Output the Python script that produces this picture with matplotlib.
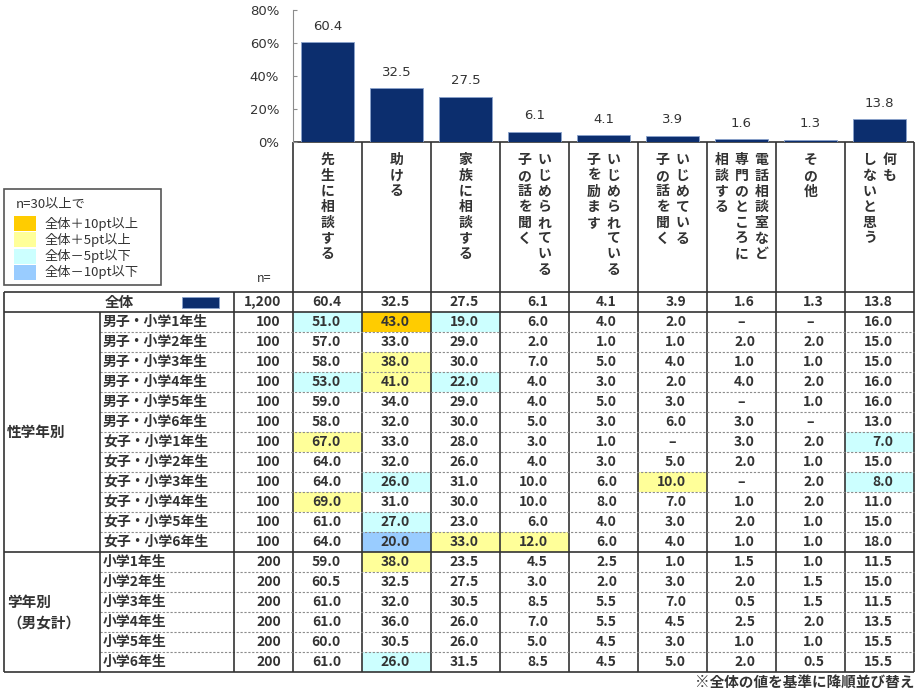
import numpy as np
import matplotlib
matplotlib.use('Agg')
import matplotlib.pyplot as plt
from matplotlib.patches import Rectangle

plt.rcParams['font.family'] = ['Noto Sans CJK JP', 'DejaVu Sans']

# 見出し（縦書き、右の列から）
headers = [
    ['先生に相談する'],
    ['助ける'],
    ['家族に相談する'],
    ['いじめられている', '子の話を聞く'],
    ['いじめられている', '子を励ます'],
    ['いじめている', '子の話を聞く'],
    ['電話相談室など', '専門のところに', '相談する'],
    ['その他'],
    ['何も', 'しないと思う'],
]

total_label = '全体'
total_n = 1200
total_vals = [60.4, 32.5, 27.5, 6.1, 4.1, 3.9, 1.6, 1.3, 13.8]

grade_group = '性学年別'
grade_labels = ['男子・小学1年生', '男子・小学2年生', '男子・小学3年生', '男子・小学4年生',
                '男子・小学5年生', '男子・小学6年生', '女子・小学1年生', '女子・小学2年生',
                '女子・小学3年生', '女子・小学4年生', '女子・小学5年生', '女子・小学6年生']
grade_n = [100] * 12
grade_vals = [
    [51.0, 43.0, 19.0, 6.0, 4.0, 2.0, None, None, 16.0],
    [57.0, 33.0, 29.0, 2.0, 1.0, 1.0, 2.0, 2.0, 15.0],
    [58.0, 38.0, 30.0, 7.0, 5.0, 4.0, 1.0, 1.0, 15.0],
    [53.0, 41.0, 22.0, 4.0, 3.0, 2.0, 4.0, 2.0, 16.0],
    [59.0, 34.0, 29.0, 4.0, 5.0, 3.0, None, 1.0, 16.0],
    [58.0, 32.0, 30.0, 5.0, 3.0, 6.0, 3.0, None, 13.0],
    [67.0, 33.0, 28.0, 3.0, 1.0, None, 3.0, 2.0, 7.0],
    [64.0, 32.0, 26.0, 4.0, 3.0, 5.0, 2.0, 1.0, 15.0],
    [64.0, 26.0, 31.0, 10.0, 6.0, 10.0, None, 2.0, 8.0],
    [69.0, 31.0, 30.0, 10.0, 8.0, 7.0, 1.0, 2.0, 11.0],
    [61.0, 27.0, 23.0, 6.0, 4.0, 3.0, 2.0, 1.0, 15.0],
    [64.0, 20.0, 33.0, 12.0, 6.0, 4.0, 1.0, 1.0, 18.0],
]

school_group = '学年別\n（男女計）'
school_labels = ['小学1年生', '小学2年生', '小学3年生', '小学4年生', '小学5年生', '小学6年生']
school_n = [200] * 6
school_vals = [
    [59.0, 38.0, 23.5, 4.5, 2.5, 1.0, 1.5, 1.0, 11.5],
    [60.5, 32.5, 27.5, 3.0, 2.0, 3.0, 2.0, 1.5, 15.0],
    [61.0, 32.0, 30.5, 8.5, 5.5, 7.0, 0.5, 1.5, 11.5],
    [61.0, 36.0, 26.0, 7.0, 5.5, 4.5, 2.5, 2.0, 13.5],
    [60.0, 30.5, 26.0, 5.0, 4.5, 3.0, 1.0, 1.0, 15.5],
    [61.0, 26.0, 31.5, 8.5, 4.5, 5.0, 2.0, 0.5, 15.5],
]

legend_title = 'n=30以上で'
legend_labels = ['全体＋10pt以上', '全体＋5pt以上', '全体－5pt以下', '全体－10pt以下']
note = '※全体の値を基準に降順並び替え'

NAVY = '#0c2e6e'
C_UP10 = '#ffcc00'
C_UP5 = '#ffff99'
C_DN5 = '#ccffff'
C_DN10 = '#99ccff'
LINE = '#333333'
TXT = '#333333'
TW = 'bold'  # 表の文字の太さ


def cell_color(v, base, n):
    if v is None or n < 30:
        return None
    d = v - base
    if d >= 10:
        return C_UP10
    if d >= 5:
        return C_UP5
    if d <= -10:
        return C_DN10
    if d <= -5:
        return C_DN5
    return None


W, H = 920, 693
fig = plt.figure(figsize=(W / 100, H / 100), dpi=100)

# レイアウト用（ピクセル座標）
lay = fig.add_axes([0, 0, 1, 1])
lay.set_xlim(0, W)
lay.set_ylim(H, 0)
lay.axis('off')

# 表の寸法
X0, XG, XL, XN = 4, 100, 234, 293
CW = 69
ncol = len(total_vals)
XR = XN + ncol * CW
Y0, RH = 292, 20
YB = 142  # 棒グラフの0%
nrows = 1 + len(grade_labels) + len(school_labels)
YE = Y0 + nrows * RH

# 棒グラフ
ax = fig.add_axes([XN / W, 1 - YB / H, (XR - XN) / W, (YB - 10) / H])
x = np.arange(ncol)
ax.bar(x, total_vals, width=0.78, color=NAVY, edgecolor='#8aa2cc', linewidth=0.6)
for xi, v in zip(x, total_vals):
    ax.annotate(f'{v:.1f}', (xi, v), xytext=(0, 7), textcoords='offset points',
                ha='center', va='bottom', fontsize=9.5, color='#333333', family='DejaVu Sans')
ax.set_xlim(-0.5, ncol - 0.5)
ax.set_ylim(0, 80)
ax.set_yticks([0, 20, 40, 60, 80])
ax.set_yticklabels([f'{t}%' for t in [0, 20, 40, 60, 80]], family='DejaVu Sans', fontsize=9.5, color='#333333')
ax.tick_params(axis='y', direction='in', length=3, color='#8c8c8c', pad=10)
ax.set_xticks([])
for s in ['top', 'right', 'bottom']:
    ax.spines[s].set_visible(False)
ax.spines['left'].set_color('#8c8c8c')
ax.patch.set_alpha(0)

# 見出し
lay.hlines(YB, XN, XR, color=LINE, lw=1.2)
for j in range(ncol + 1):
    lay.vlines(XN + j * CW, YB, YE, color=LINE, lw=1.2)
for j, lines in enumerate(headers):
    cx = XN + j * CW + CW / 2
    k = len(lines)
    for m, line in enumerate(lines):
        lx = cx + ((k - 1) / 2 - m) * 20
        for c, ch in enumerate(line):
            lay.text(lx, 160 + c * 15.7, ch, ha='center', va='center', fontsize=10, color=TXT, weight=TW)
lay.text(257, 279, 'n=', ha='left', va='center', fontsize=9, color=TXT)

# 凡例
lay.add_patch(Rectangle((4, 189), 157, 96, facecolor='white', edgecolor='#555555', lw=1.2))
lay.text(16, 204, legend_title, ha='left', va='center', fontsize=9.5, color=TXT)
for i, (lab, col) in enumerate(zip(legend_labels, [C_UP10, C_UP5, C_DN5, C_DN10])):
    yc = 223.5 + i * 16.3
    lay.add_patch(Rectangle((14, yc - 7.5), 22, 15, facecolor=col, edgecolor='none'))
    lay.text(45, yc, lab, ha='left', va='center', fontsize=9.5, color=TXT)

# 表の行
rows = [(total_label, total_n, total_vals)]
rows += list(zip(grade_labels, grade_n, grade_vals))
rows += list(zip(school_labels, school_n, school_vals))

for i, (lab, n, vals) in enumerate(rows):
    yt = Y0 + i * RH
    yc = yt + RH / 2
    if i == 0:
        lay.text(105, yc, lab, ha='left', va='center', fontsize=10.5, color=TXT, weight='bold')
        lay.add_patch(Rectangle((182, yc - 5.5), 37, 11, facecolor=NAVY, edgecolor='#8aa2cc', lw=0.6))
    else:
        lay.text(103, yc, lab, ha='left', va='center', fontsize=10, color=TXT, weight=TW)
    lay.text(281, yc, f'{n:,}', ha='right', va='center', fontsize=10, color=TXT, weight=TW)
    for j, v in enumerate(vals):
        xl = XN + j * CW
        col = None if i == 0 else cell_color(v, total_vals[j], n)
        if col:
            lay.add_patch(Rectangle((xl, yt), CW, RH, facecolor=col, edgecolor='none', zorder=0.5))
        if v is None:
            lay.text(xl + CW / 2, yc, '–', ha='center', va='center', fontsize=10, color=TXT, weight=TW)
        else:
            lay.text(xl + CW - 21, yc, f'{v:.1f}', ha='right', va='center', fontsize=10, color=TXT, weight=TW)

# 罫線
ng, ns = len(grade_labels), len(school_labels)
y1 = Y0 + RH
y2 = y1 + ng * RH
for i in range(1, ng):
    lay.hlines(y1 + i * RH, XG, XR, color='#8c8c8c', lw=0.8, linestyles=(0, (2, 1.5)))
for i in range(1, ns):
    lay.hlines(y2 + i * RH, XG, XR, color='#8c8c8c', lw=0.8, linestyles=(0, (2, 1.5)))
for yy in [Y0, y1, y2, YE]:
    lay.hlines(yy, X0, XR, color=LINE, lw=1.2)
lay.vlines(X0, Y0, YE, color=LINE, lw=1.2)
lay.vlines(XG, y1, YE, color=LINE, lw=1.2)
lay.vlines(XL, Y0, YE, color=LINE, lw=1.2)

# グループ名
lay.text(7, (y1 + y2) / 2, grade_group, ha='left', va='center', fontsize=10.5, color=TXT, weight=TW)
for m, line in enumerate(school_group.split('\n')):
    lay.text(7, (y2 + YE) / 2 - 10 + m * 21, line, ha='left', va='center', fontsize=10.5, color=TXT, weight=TW)

lay.text(XR, 682, note, ha='right', va='center', fontsize=10.5, color=TXT, weight='bold')

fig.savefig('out.png', dpi=100)
